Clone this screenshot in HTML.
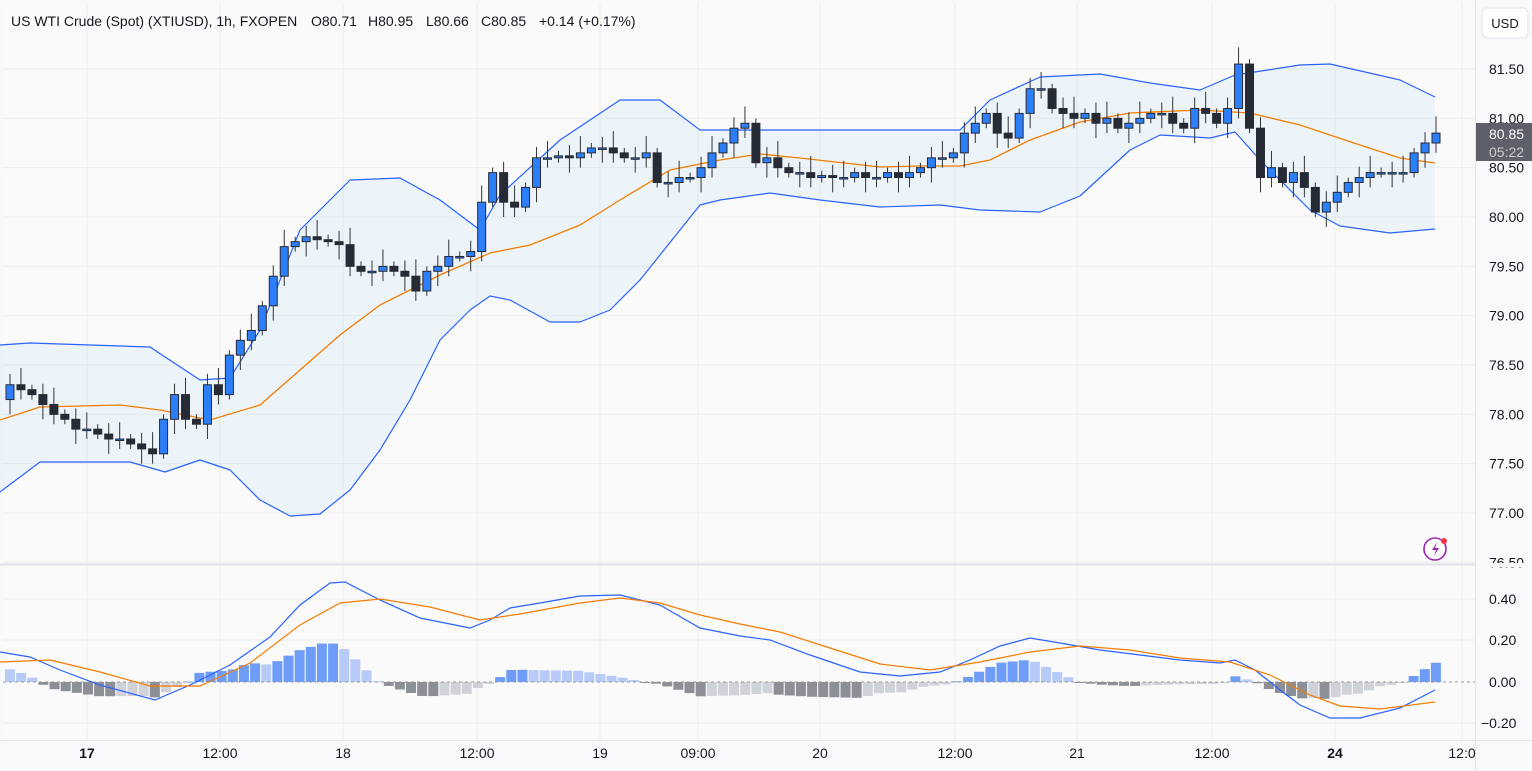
<!DOCTYPE html>
<html><head><meta charset="utf-8"><style>
body{margin:0;background:#fff;font-family:"Liberation Sans",sans-serif}
svg{display:block}
</style></head><body>
<svg id="s" width="1532" height="771" xmlns="http://www.w3.org/2000/svg" font-family="Liberation Sans, sans-serif"></svg>
<script>
const S=document.getElementById('s');let h='';
h+='<rect x="0" y="0" width="1532" height="771" fill="#f8f9fa"/>';
h+='<rect x="3" y="3" width="1472" height="560" fill="#fafafa"/>';
h+='<rect x="3" y="566" width="1472" height="174" fill="#fafafa"/>';
const py=p=>69+(81.5-p)*98.67;
for(let p=76.5;p<=81.5;p+=0.5){const y=py(p);h+=`<line x1="3" x2="1475" y1="${y}" y2="${y}" stroke="#eceef1"/>`;}
[599,640,723].forEach(y=>h+=`<line x1="3" x2="1475" y1="${y}" y2="${y}" stroke="#eceef1"/>`);
const tx=[[87,'17',1],[220,'12:00'],[343,'18'],[477,'12:00'],[600,'19'],[698,'09:00'],[820,'20'],[955,'12:00'],[1077,'21'],[1212,'12:00'],[1335,'24',1],[1462,'12:0']];
tx.forEach(t=>{h+=`<line x1="${t[0]}" x2="${t[0]}" y1="3" y2="740" stroke="#eceef1"/>`;h+=`<text x="${t[0]}" y="758" font-size="14" text-anchor="middle" fill="#131722" ${t[2]?'font-weight="bold"':''}>${t[1]}</text>`});
const pl=a=>a.map(p=>p.join(',')).join(' ');
const up=[[0,345],[30,343],[150,347],[200,380],[230,378],[260,330],[300,230],[350,180],[400,178],[440,200],[480,230],[500,195],[560,140],[620,100],[660,100],[700,130],[960,130],[990,100],[1040,77],[1100,74],[1150,83],[1200,90],[1235,75],[1300,65],[1330,64],[1400,80],[1435,97]];
const lo=[[0,492],[40,462],[130,462],[165,472],[200,460],[230,470],[260,500],[290,516],[320,514],[350,490],[380,450],[410,400],[440,340],[470,310],[490,296],[510,300],[550,322],[580,322],[610,310],[640,280],[680,230],[700,205],[720,200],[770,193],[820,200],[880,207],[940,205],[980,210],[1040,212],[1080,196],[1130,150],[1160,135],[1210,138],[1235,132],[1260,160],[1310,210],[1340,226],[1390,233],[1435,229]];
const ma=[[0,420],[40,407],[120,405],[160,410],[210,420],[260,405],[300,370],[340,335],[380,305],[440,275],[490,253],[530,245],[580,225],[620,200],[670,170],[720,160],[760,154],[800,158],[880,167],[920,166],[960,166],[990,160],[1030,140],[1080,122],[1130,113],[1200,110],[1250,113],[1300,125],[1360,145],[1400,158],[1435,163]];
h+=`<polygon points="${pl(up)} ${pl(lo.slice().reverse())}" fill="rgba(33,150,243,0.06)"/>`;
h+=`<polyline points="${pl(up)}" fill="none" stroke="#2962ff" stroke-width="1.2" stroke-linejoin="round"/>`;
h+=`<polyline points="${pl(lo)}" fill="none" stroke="#2962ff" stroke-width="1.2" stroke-linejoin="round"/>`;
h+=`<polyline points="${pl(ma)}" fill="none" stroke="#f57c00" stroke-width="1.3"/>`;
const C=[78.15,78.3,78.25,78.2,78.1,78.0,77.95,77.85,77.85,77.8,77.75,77.75,77.7,77.65,77.6,77.95,78.2,77.95,77.9,78.3,78.2,78.6,78.75,78.85,79.1,79.4,79.7,79.75,79.8,79.77,79.75,79.72,79.5,79.45,79.45,79.5,79.45,79.4,79.25,79.45,79.5,79.6,79.6,79.65,80.15,80.45,80.15,80.1,80.3,80.6,80.6,80.62,80.6,80.65,80.7,80.7,80.65,80.6,80.6,80.65,80.35,80.35,80.4,80.4,80.5,80.65,80.75,80.9,80.95,80.55,80.6,80.5,80.45,80.45,80.4,80.42,80.4,80.4,80.45,80.4,80.4,80.45,80.4,80.45,80.5,80.6,80.6,80.65,80.85,80.95,81.05,80.85,80.8,81.05,81.3,81.3,81.1,81.05,81.0,81.05,80.95,81.0,80.9,80.95,81.0,81.05,81.05,80.95,80.9,81.1,81.05,80.95,81.1,81.55,80.9,80.4,80.5,80.35,80.45,80.3,80.05,80.15,80.25,80.35,80.4,80.45,80.45,80.45,80.45,80.65,80.75,80.85];
const n=C.length-1,dx=(1436-10)/(n-1);
for(let i=1;i<=n;i++){const o=C[i-1],c=C[i],x=10+(i-1)*dx;const hi=Math.max(o,c)+0.05+0.06*((i*7)%3),l=Math.min(o,c)-0.05-0.05*((i*5)%3);
const u=c>=o;h+=`<line x1="${x}" x2="${x}" y1="${py(hi)}" y2="${py(l)}" stroke="#333"/>`;
const t=py(Math.max(o,c)),b=Math.max(py(Math.min(o,c)),t+1.5);
h+=`<rect x="${x-4}" y="${t}" width="8" height="${b-t}" fill="${u?'#2d7ff9':'#262b36'}" stroke="#262b36" stroke-width="1"/>`;}
const mb=[[0,652],[30,657],[60,670],[100,685],[155,700],[190,685],[230,665],[270,637],[300,605],[330,583],[345,582],[380,600],[420,618],[470,628],[490,620],[510,608],[540,603],[580,596],[620,595],[660,605],[700,628],[740,636],[770,640],[810,655],[860,672],[900,676],[940,672],[970,660],[1000,646],[1030,638],[1060,643],[1100,650],[1140,655],[1180,660],[1220,663],[1235,660],[1255,670],[1280,690],[1300,705],[1330,718],[1360,718],[1400,708],[1435,690]];
const ms=[[0,662],[50,660],[100,672],[150,686],[200,686],[250,663],[300,625],[340,603],[380,599],[430,607],[480,620],[520,614],[580,603],[620,598],[660,603],[700,615],[740,624],[780,632],[830,648],[880,664],[930,670],[980,662],[1030,652],[1080,646],[1130,650],[1180,658],[1230,662],[1270,675],[1310,695],[1340,706],[1380,709],[1435,702]];
const it=(a,x)=>{for(let k=0;k<a.length-1;k++)if(x>=a[k][0]&&x<=a[k+1][0]){const f=(x-a[k][0])/(a[k+1][0]-a[k][0]);return a[k][1]+f*(a[k+1][1]-a[k][1]);}return a[a.length-1][1];};
let prev=null;
for(let x=10;x<=1436;x+=11.14){let d=(it(mb,x)-it(ms,x));d=d<0?d*1.6:d*1.1;let col;
if(d<=0){col=(prev!==null&&d<prev)?'#6f9cf7':'#b8cbf8';}else{col=(prev!==null&&d>prev)?'#8c8f96':'#cfd2d9';}
prev=d;const y=682+Math.min(0,d),hh=Math.abs(d);h+=`<rect x="${x-5}" y="${y}" width="10" height="${Math.max(hh,1)}" fill="${col}"/>`;}
h+=`<line x1="3" x2="1475" y1="682" y2="682" stroke="#999" stroke-dasharray="3,3"/>`;
h+=`<polyline points="${pl(mb)}" fill="none" stroke="#2962ff" stroke-width="1.2"/>`;
h+=`<polyline points="${pl(ms)}" fill="none" stroke="#f57c00" stroke-width="1.2"/>`;
h+=`<line x1="0" x2="1532" y1="564.5" y2="564.5" stroke="#e0e3eb" stroke-width="2"/>`;
h+=`<line x1="1475.5" x2="1475.5" y1="0" y2="771" stroke="#e0e3eb"/>`;
h+=`<line x1="0" x2="1532" y1="740.5" y2="740.5" stroke="#e0e3eb"/>`;
h+=`<rect x="1482" y="8" width="46" height="30" rx="5" fill="#fff" stroke="#e0e3eb"/><text x="1505" y="28" font-size="13" text-anchor="middle" fill="#131722">USD</text>`;
for(let p=76.5;p<=81.5;p+=0.5){h+=`<text x="1489" y="${py(p)+5}" font-size="14" fill="#131722">${p.toFixed(2)}</text>`;}
[[599,'0.40'],[640,'0.20'],[682,'0.00'],[723,'−0.20']].forEach(t=>h+=`<text x="${t[1][0]=='−'?1481:1489}" y="${t[0]+5}" font-size="14" fill="#131722">${t[1]}</text>`);
h+=`<rect x="1476" y="123" width="56" height="38" fill="#5d606b"/><text x="1489" y="139" font-size="14" fill="#fff">80.85</text><text x="1489" y="157" font-size="14" fill="#ccc">05:22</text>`;
h+=`<rect x="1476" y="563" width="56" height="4" fill="#f8f9fa"/>`;
h+=`<text y="26" font-size="14" fill="#131722"><tspan x="11">US WTI Crude (Spot) (XTIUSD), 1h, FXOPEN</tspan><tspan x="311">O80.71</tspan><tspan x="368">H80.95</tspan><tspan x="426">L80.66</tspan><tspan x="481">C80.85</tspan><tspan x="539">+0.14 (+0.17%)</tspan></text>`;
h+=`<circle cx="1435" cy="549" r="11" fill="#fff" stroke="#9c27b0" stroke-width="1.6"/><path d="M1437 542 l-5 8 h4 l-2 6 l5-8 h-4z" fill="#9c27b0"/><circle cx="1444" cy="541" r="3" fill="#f23645"/>`;
S.innerHTML=h;
</script>
</body></html>
